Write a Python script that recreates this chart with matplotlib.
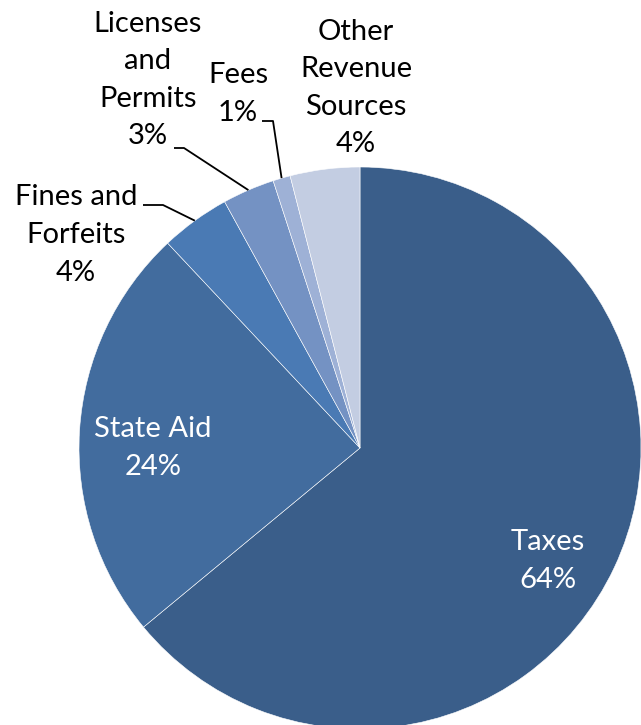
import matplotlib.pyplot as plt
import numpy as np

# revenue sources, clockwise from 12 o'clock
sources = ['Taxes', 'State Aid', 'Fines and\nForfeits', 'Licenses\nand\nPermits', 'Fees',
           'Other\nRevenue\nSources']
shares = [64, 24, 4, 3, 1, 4]
colors = ['#3A5E8A', '#426C9E', '#4A7AB4', '#7492C3', '#9EB1D6', '#C3CDE2']

plt.rcParams['font.family'] = ['Lato', 'DejaVu Sans']

fig = plt.figure(figsize=(6.41, 7.25), dpi=100)
ax = fig.add_axes([0, 0, 1, 1])

cx, cy, r = 360, 277, 281
wedges, _ = ax.pie(shares, colors=colors, startangle=90, counterclock=False,
                   center=(cx, cy), radius=r, frame=True,
                   wedgeprops=dict(edgecolor='white', linewidth=0.4))
ax.set_xlim(0, 641)
ax.set_ylim(0, 725)
ax.axis('off')

total = sum(shares)
labels = [f'{s}\n{v / total * 100:.0f}%' for s, v in zip(sources, shares)]

# label anchor (x, y) and, for outside labels, the elbow of the leader line
label_pos = [(548, 164, 'white', None),
             (153, 277, 'white', None),
             (76, 490, 'black', (143, 520, 163)),
             (148, 645, 'black', (174, 577, 184)),
             (238, 631, 'black', (262, 604, 273)),
             (356, 637, 'black', None)]

for w, lab, (x, y, col, lead) in zip(wedges, labels, label_pos):
    ax.text(x, y, lab, ha='center', va='center', color=col, fontsize=21,
            linespacing=1.55)
    if lead is not None:
        x0, ly, x1 = lead
        ang = np.deg2rad((w.theta1 + w.theta2) / 2)
        px, py = cx + r * np.cos(ang), cy + r * np.sin(ang)
        ax.plot([x0, x1, px], [ly, ly, py], color='black', lw=1.3,
                solid_capstyle='butt')

fig.savefig('out.png', dpi=100)
